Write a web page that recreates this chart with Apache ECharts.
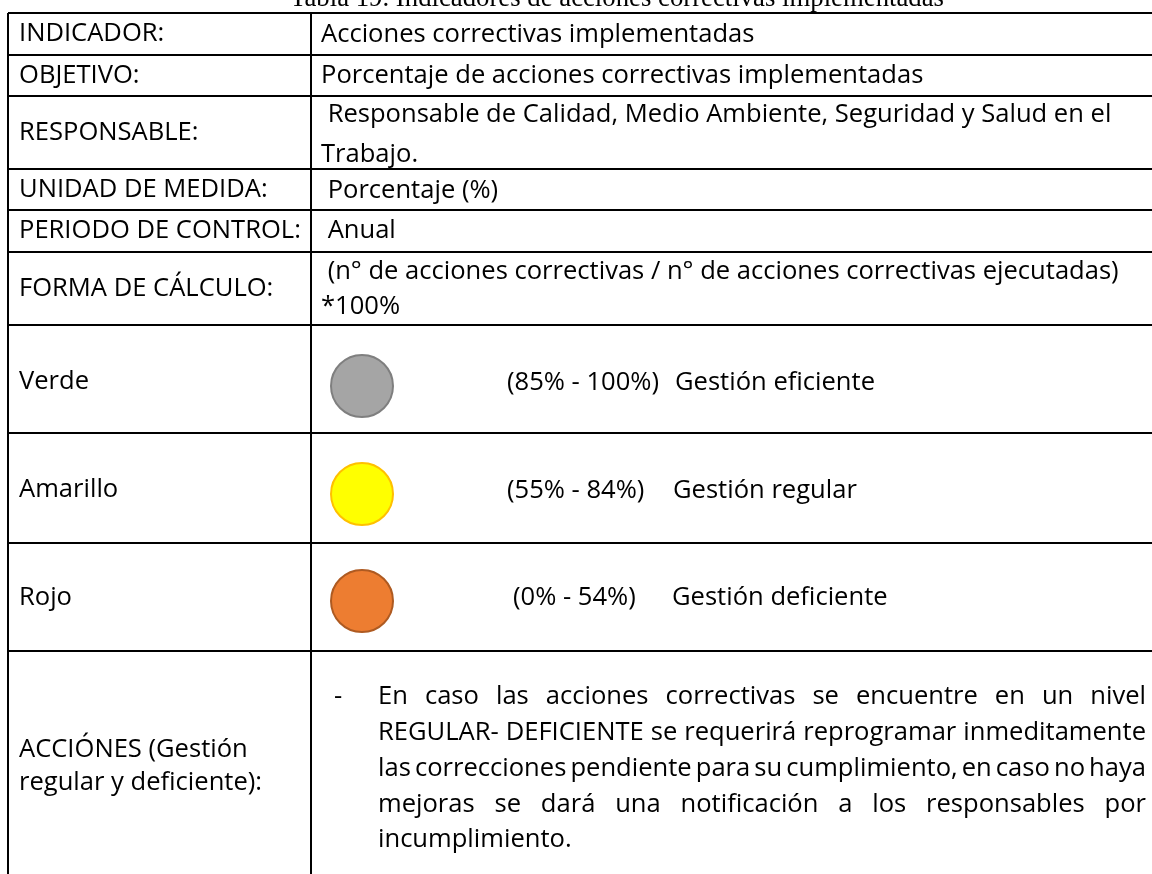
<!DOCTYPE html>
<html><head><meta charset="utf-8">
<script src="https://cdn.jsdelivr.net/npm/echarts@6/dist/echarts.min.js"></script>
<style>html,body{margin:0;padding:0;background:#fff}#c{width:1152px;height:874px}</style>
</head><body><div id="c"></div>
<script>
// ---------- data ----------
const title = "Tabla 19. Indicadores de acciones correctivas implementadas";
const rowLabels = [
  ["INDICADOR:"], ["OBJETIVO:"], ["RESPONSABLE:"], ["UNIDAD DE MEDIDA:"],
  ["PERIODO DE CONTROL:"], ["FORMA DE CÁLCULO:"], ["Verde"], ["Amarillo"], ["Rojo"],
  ["ACCIÓNES (Gestión", "regular y deficiente):"]
];
const rowValues = [
  ["Acciones correctivas implementadas"],
  ["Porcentaje de acciones correctivas implementadas"],
  [" Responsable de Calidad, Medio Ambiente, Seguridad y Salud en el", "Trabajo."],
  [" Porcentaje (%)"],
  [" Anual"],
  [" (n° de acciones correctivas / n° de acciones correctivas ejecutadas)", "*100%"],
  [], [], [], []
];
const levelRanges = ["(85% - 100%)", "(55% - 84%)", "(0% - 54%)"];
const levelNames = ["Gestión eficiente", "Gestión regular", "Gestión deficiente"];
const levelColors = ["#a5a5a5", "#ffff00", "#ed7d31"];
const levelBorders = ["#7f7f7f", "#ffc000", "#ae5a21"];
const actionLines = [
  "En caso las acciones correctivas se encuentre en un nivel",
  "REGULAR- DEFICIENTE se requerirá reprogramar inmeditamente",
  "las correcciones pendiente para su cumplimiento, en caso no haya",
  "mejoras se dará una notificación a los responsables por",
  "incumplimiento."
];

// ---------- layout ----------
const FONT = '"Open Sans"';
const ctx = document.createElement('canvas').getContext('2d');
function measure(t, size, fam) { ctx.font = size + 'px ' + fam; return ctx.measureText(t).width; }
// body font size fitted to the width of the long "Responsable..." line (328 -> 1112)
const FS = +(24 * 784 / measure(rowValues[2][0].trim(), 24, FONT)).toFixed(2);
const TITLE_FONT = '"Liberation Serif"';
const TFS = +(24 * 654 / measure(title, 24, TITLE_FONT)).toFixed(2);

const rowEdges = [13, 55, 96, 169, 210, 252, 325, 433, 543, 651, 880];
const labelY = [[34], [76], [133], [190], [231], [289], [382], [490], [598], [750, 783]];
const valueY = [[35], [76], [115, 155], [191], [231], [272, 307]];
const leftX = 8, colX = 311, rightX = 1152;
const labelX = 19, valueX = 321;
const circleX = 362, circleY = [386, 494, 601], circleR = 31;
const rangeX = [507, 507, 513], nameX = [675, 673, 672];
const paraDashX = 334, paraLeft = 378, paraRight = 1146;
const paraY = [697, 733, 769, 805, 840];

const g = [];
const txt = (t, x, y, extra) => ({
  type: 'text', x, y, silent: true,
  style: Object.assign({ text: t, fill: '#000', font: FS + 'px ' + FONT, verticalAlign: 'middle', align: 'left' }, extra || {})
});

g.push({ type: 'text', x: 617, y: 12, style: { text: title, fill: '#000', font: TFS + 'px ' + TITLE_FONT, align: 'center', verticalAlign: 'bottom' } });

// table rules
const LW = 2;
rowEdges.slice(0, -1).forEach(y => {
  g.push({ type: 'line', shape: { x1: leftX, y1: y, x2: rightX, y2: y }, style: { stroke: '#000', lineWidth: LW } });
});
[leftX, colX].forEach(x => {
  g.push({ type: 'line', shape: { x1: x, y1: rowEdges[0], x2: x, y2: 874 }, style: { stroke: '#000', lineWidth: LW } });
});

rowLabels.forEach((lines, i) => lines.forEach((t, j) => g.push(txt(t, labelX, labelY[i][j]))));
rowValues.forEach((lines, i) => lines.forEach((t, j) => g.push(txt(t, valueX, valueY[i][j]))));

levelRanges.forEach((r, i) => {
  g.push({ type: 'circle', shape: { cx: circleX, cy: circleY[i], r: circleR }, style: { fill: levelColors[i], stroke: levelBorders[i], lineWidth: 2 } });
  g.push(txt(r, rangeX[i], circleY[i] - 3));
  g.push(txt(levelNames[i], nameX[i], circleY[i] - 3));
});

// justified paragraph
g.push(txt('-', paraDashX, paraY[0]));
actionLines.forEach((line, i) => {
  const words = line.split(' ');
  if (i === actionLines.length - 1 || words.length < 2) {
    g.push(txt(line, paraLeft, paraY[i]));
    return;
  }
  const widths = words.map(w => measure(w, FS, FONT));
  const total = widths.reduce((a, b) => a + b, 0);
  let sx = 1, gap = (paraRight - paraLeft - total) / (words.length - 1);
  const minGap = measure(' ', FS, FONT) * 0.5;
  if (gap < minGap) { gap = minGap; sx = (paraRight - paraLeft - gap * (words.length - 1)) / total; }
  let x = paraLeft;
  words.forEach((w, k) => {
    const el = txt(w, x, paraY[i]);
    if (sx !== 1) { el.scaleX = sx; el.originX = x; }
    g.push(el);
    x += widths[k] * sx + gap;
  });
});

const chart = echarts.init(document.getElementById('c'), null, { renderer: 'canvas' });
chart.setOption({ backgroundColor: '#fff', animation: false, graphic: { elements: g } });
</script></body></html>
